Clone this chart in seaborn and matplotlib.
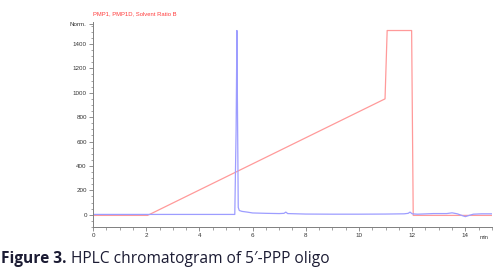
"""HPLC chromatogram of 5'-PPP oligo (absorbance trace + solvent ratio B)."""

import matplotlib.pyplot as plt
import numpy as np
import pandas as pd
import seaborn as sns
from matplotlib.ticker import MultipleLocator

# absorbance trace (blue), time in min
signal_time = [0.0, 1.0, 2.0, 3.0, 4.0, 5.0, 5.33, 5.38, 5.41, 5.43, 5.46, 5.5,
               5.6, 5.8, 6.0, 6.5, 7.0, 7.18, 7.25, 7.32, 8.0, 9.0, 10.0, 11.0,
               11.7, 11.85, 11.92, 12.0, 12.2, 12.8, 13.3, 13.5, 13.7, 13.9,
               14.0, 14.1, 14.3, 14.6, 15.0]
signal_value = [3, 3, 3, 3, 3, 3, 3, 700, 1510, 900, 60, 35,
                28, 22, 15, 12, 10, 12, 22, 10, 6, 5, 5, 6,
                8, 12, 22, 8, 5, 10, 10, 16, 8, -8,
                -15, -8, 5, 8, 8]

# solvent ratio B (red)
solvent_time = [0.0, 2.05, 10.98, 11.06, 11.98, 12.04, 15.0]
solvent_value = [-5, -5, 950, 1510, 1510, -5, -5]

X_TICKS = [0, 2, 4, 6, 8, 10, 12, 14]
Y_TICKS = [0, 200, 400, 600, 800, 1000, 1200, 1400, 1560]
Y_TICK_LABELS = ["0", "200", "400", "600", "800", "1000", "1200", "1400", "Norm."]

TITLE = "PMP1, PMP1D, Solvent Ratio B"
CAPTION_BOLD = "Figure 3."
CAPTION_REST = " HPLC chromatogram of 5\u2032-PPP oligo"


def main():
    sns.set_theme(style="white")
    plt.rcParams["font.family"] = ["Liberation Sans", "DejaVu Sans"]

    sig = pd.DataFrame({"time": signal_time, "value": signal_value})
    sol = pd.DataFrame({"time": solvent_time, "value": solvent_value})

    fig = plt.figure(figsize=(5.03, 2.68), dpi=100)
    ax = fig.add_axes([0.185, 0.153, 0.793, 0.765])

    sns.lineplot(data=sol, x="time", y="value", ax=ax, color="#ff9a9a",
                 linewidth=0.9, sort=False, estimator=None)
    sns.lineplot(data=sig, x="time", y="value", ax=ax, color="#9d9dff",
                 linewidth=0.9, sort=False, estimator=None)

    ax.set_xlim(0, 15)
    ax.set_ylim(-100, 1580)
    ax.set_xticks(X_TICKS)
    ax.set_yticks(Y_TICKS)
    ax.set_yticklabels(Y_TICK_LABELS)
    ax.xaxis.set_minor_locator(MultipleLocator(0.5))
    ax.yaxis.set_minor_locator(MultipleLocator(50))
    ax.set_xlabel("")
    ax.set_ylabel("")

    for side in ["top", "right"]:
        ax.spines[side].set_visible(False)
    for side in ["left", "bottom"]:
        ax.spines[side].set_color("#7f7f7f")
        ax.spines[side].set_linewidth(0.7)

    ax.tick_params(which="major", direction="out", length=3, width=0.6,
                   color="#7f7f7f", labelsize=4.5, labelcolor="#333333", pad=1.5,
                   left=True, bottom=True)
    ax.tick_params(which="minor", direction="out", length=1.8, width=0.5,
                   color="#7f7f7f", left=True, bottom=True)

    ax.text(14.7, -0.04, "min", transform=ax.get_xaxis_transform(),
            ha="center", va="top", fontsize=4, color="#333333")

    ax.set_title(TITLE, loc="left", fontsize=4.2, color="#ff3b3b", pad=5)

    # caption below the plot: bold label followed by regular text
    cap_color = "#1b1b33"
    bold = fig.text(0.002, 0.019, CAPTION_BOLD, fontsize=11.2, fontweight="bold",
                    family=["Open Sans", "DejaVu Sans"], color=cap_color, va="baseline")
    renderer = fig.canvas.get_renderer()
    bbox = bold.get_window_extent(renderer=renderer)
    x_next = bbox.x1 / fig.bbox.width
    fig.text(x_next, 0.019, CAPTION_REST, fontsize=11.2,
             family=["Open Sans", "DejaVu Sans"], color=cap_color, va="baseline")

    fig.savefig("out.png", dpi=100)
    plt.close(fig)


if __name__ == "__main__":
    main()
